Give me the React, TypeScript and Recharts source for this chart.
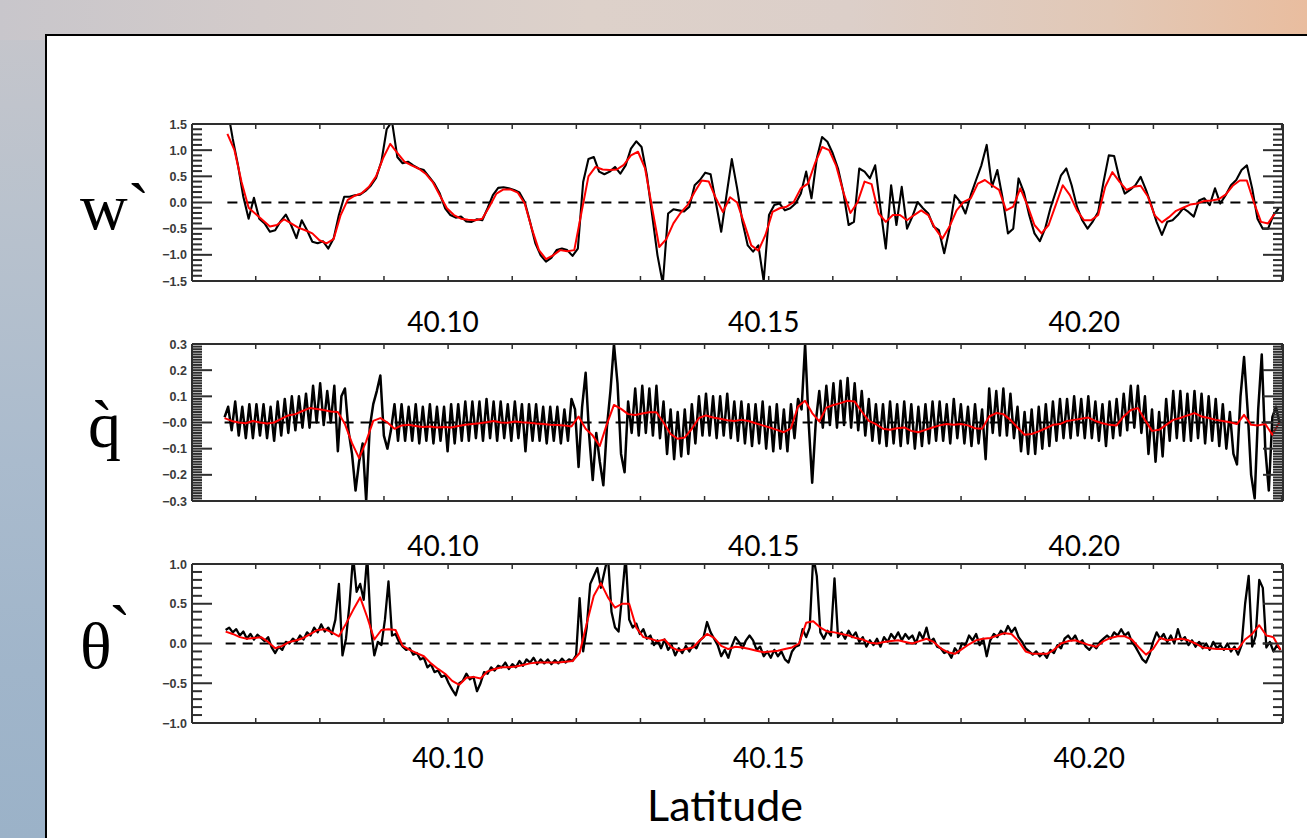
import React from 'react';
import { LineChart, Line, XAxis, YAxis } from 'recharts';

// ---------------- data ----------------
const X_DOMAIN: [number, number] = [40.06006, 40.23021];
const X_TICKS = [40.07, 40.08, 40.09, 40.10, 40.11, 40.12, 40.13, 40.14, 40.15, 40.16, 40.17, 40.18, 40.19, 40.20, 40.21, 40.22, 40.23];
const X_LABELS = [40.10, 40.15, 40.20];

const STEP_FINE = 0.00055206;   // black q, black theta
const STEP_MID = 0.0008281;     // black w
const STEP_COARSE = 0.0011041;  // red curves

const W_LAT0 = 40.06558;
const Q_LAT0 = 40.065142;
const T_LAT0 = 40.065308;

const W_BLACK = [
  1.8, 1.22, 0.71, 0.11, -0.31, 0.09, -0.31, -0.40, -0.56, -0.53,
  -0.36, -0.23, -0.43, -0.68, -0.34, -0.53, -0.75, -0.78, -0.74, -0.88,
  -0.69, -0.24, 0.11, 0.11, 0.14, 0.15, 0.22, 0.32, 0.47, 0.78,
  1.4, 1.55, 0.87, 0.75, 0.78, 0.71, 0.65, 0.62, 0.49, 0.36,
  0.17, -0.11, -0.24, -0.29, -0.27, -0.36, -0.37, -0.32, -0.34, -0.11,
  0.14, 0.28, 0.29, 0.27, 0.24, 0.19, 0.01, -0.37, -0.78, -1.01,
  -1.13, -1.06, -0.91, -0.88, -0.91, -1.02, -0.88, 0.39, 0.83, 0.87,
  0.59, 0.54, 0.59, 0.68, 0.55, 0.71, 1.03, 1.17, 1.06, 0.52,
  -0.24, -1.01, -1.55, -0.21, -0.13, -0.15, -0.17, -0.08, 0.33, 0.43,
  0.57, 0.54, 0.0, -0.56, 0.14, 0.83,
  0.27, -0.37, -0.82, -0.94, -0.82, -1.5, -0.24, -0.05, -0.02, -0.15,
  -0.11, -0.02, 0.17, 0.59, 0.08, 0.84, 1.25, 1.16, 0.94, 0.65,
  0.2, -0.43, -0.37, 0.65, 0.59, 0.46, 0.71, -0.11, -0.88, 0.33,
  -0.43, 0.3, -0.5, -0.27, 0.01, -0.11, -0.21, -0.46, -0.53, -0.97,
  -0.5, 0.14, 0.01, -0.21, 0.14, 0.43, 0.71, 1.1, 0.3, 0.62,
  0.08, -0.59, -0.5, 0.46, 0.2, -0.24, -0.59, -0.74, -0.5, -0.11,
  0.2, 0.52, 0.65, 0.33, -0.08, -0.34, -0.5, -0.36, -0.18, 0.39,
  0.9, 0.89, 0.46, 0.17, 0.24, 0.33, 0.49, 0.24, -0.05, -0.37,
  -0.62, -0.37, -0.34, -0.24, -0.11, -0.18, -0.27, 0.04, 0.08, -0.05,
  0.27, -0.02, 0.14, 0.33, 0.43, 0.62, 0.71, 0.27, -0.31, -0.5,
  -0.5, -0.24, -0.11,
];

const W_RED = [
  1.31, 1.0, 0.39, -0.1, -0.22, -0.34, -0.46, -0.43, -0.32, -0.4,
  -0.48, -0.53, -0.59, -0.72, -0.78, -0.7, -0.24, 0.05, 0.13, 0.18,
  0.3, 0.5, 0.85, 1.12, 0.95, 0.78, 0.71, 0.65, 0.55, 0.39,
  0.14, -0.11, -0.24, -0.31, -0.33, -0.34, -0.31, -0.08, 0.17, 0.25,
  0.25, 0.19, -0.02, -0.5, -0.91, -1.08, -1.01, -0.91, -0.93, -0.91,
  -0.2, 0.5, 0.68, 0.63, 0.62, 0.63, 0.72, 0.9, 0.97, 0.65,
  -0.11, -0.85, -0.7, -0.4, -0.2, -0.05, 0.2, 0.42, 0.4, 0.08,
  -0.18, 0.1,
  0.0, -0.4, -0.82, -0.92, -0.62, -0.18, -0.11, -0.08, 0.01, 0.27,
  0.36, 0.75, 1.06, 1.0, 0.7, 0.2, -0.2, 0.0, 0.4, 0.35,
  -0.21, -0.37, -0.24, -0.24, -0.34, -0.24, -0.15, -0.24, -0.5, -0.69,
  -0.46, -0.15, 0.01, 0.08, 0.36, 0.43, 0.33, 0.24, -0.15, -0.08,
  0.27, -0.05, -0.43, -0.59, -0.43, -0.05, 0.33, 0.14, -0.15, -0.34,
  -0.34, -0.24, 0.3, 0.58, 0.4, 0.24, 0.3, 0.32, 0.12, -0.25,
  -0.38, -0.28, -0.16, -0.1, -0.04, -0.02, 0.03, 0.04, 0.06, 0.15,
  0.32, 0.42, 0.42, 0.0, -0.37, -0.4, -0.2,
];

const Q_BLACK = [
  0.02, 0.06, -0.03, 0.08, -0.05, 0.06, -0.06, 0.07, -0.06, 0.07,
  -0.05, 0.07, -0.06, 0.06, -0.07, 0.08, -0.05, 0.09, -0.04, 0.1,
  -0.03, 0.1, -0.02, 0.11, -0.02, 0.14, 0.0, 0.15, -0.01, 0.12,
  0.0, 0.14, -0.11, 0.1, 0.13, -0.03, -0.12, -0.26, -0.15, -0.08,
  -0.3, -0.02, 0.07, 0.12, 0.18, -0.05, -0.1, -0.03, 0.07, -0.07,
  0.07, -0.07, 0.06, -0.07, 0.07, -0.08, 0.06, -0.07, 0.07, -0.08,
  0.06, -0.07, 0.06, -0.11, 0.07, -0.08, 0.07, -0.07, 0.08, -0.07,
  0.08, -0.06, 0.08, -0.07, 0.09, -0.06, 0.08, -0.07, 0.08, -0.06,
  0.07, -0.07, 0.08, -0.06, 0.07, -0.11, 0.07, -0.07, 0.07, -0.07,
  0.06, -0.08, 0.06, -0.07, 0.06, -0.08, 0.05, -0.07, 0.09, 0.05,
  -0.17, 0.06, 0.19, -0.05, -0.22, -0.04, -0.15, -0.24, -0.02, 0.12,
  0.3, 0.15, -0.12, -0.19, 0.08, -0.04, 0.13, -0.05, 0.14, -0.04,
  0.13, -0.05, 0.14, -0.06, 0.08, -0.12, 0.05, -0.14, 0.04, -0.13,
  0.05, -0.12, 0.07, -0.08, 0.1, -0.05, 0.11, -0.05, 0.1, -0.06,
  0.1, -0.05, 0.11, -0.06,
  0.08, -0.07, 0.08, -0.08, 0.07, -0.09, 0.07, -0.08, 0.08, -0.1,
  0.06, -0.11, 0.07, -0.1, 0.05, -0.11, 0.07, -0.06, 0.09, 0.05,
  0.3, 0.0, -0.23, 0.0, 0.12, -0.02, 0.14, -0.01, 0.15, -0.02,
  0.16, -0.01, 0.17, -0.02, 0.15, -0.03, 0.12, -0.05, 0.09, -0.07,
  0.07, -0.08, 0.07, -0.09, 0.08, -0.08, 0.07, -0.09, 0.08, -0.08,
  0.07, -0.1, 0.06, -0.09, 0.07, -0.08, 0.08, -0.07, 0.08, -0.07,
  0.07, -0.08, 0.09, -0.06, 0.07, -0.08, 0.06, -0.09, 0.07, -0.08,
  0.05, -0.14, 0.13, -0.04, 0.12, -0.05, 0.13, -0.05, 0.11, -0.06,
  0.06, -0.11, 0.04, -0.12, 0.05, -0.12, 0.06, -0.1, 0.07, -0.09,
  0.08, -0.07, 0.09, -0.06, 0.09, -0.06, 0.1, -0.05, 0.09, -0.06,
  0.1, -0.06, 0.08, -0.07, 0.07, -0.09, 0.08, -0.06, 0.09, -0.05,
  0.11, -0.03, 0.14, -0.02, 0.14, -0.04, 0.1, -0.12, 0.05, -0.15,
  0.04, -0.13, 0.09, -0.07, 0.12, -0.06, 0.12, -0.07, 0.11, -0.07,
  0.12, -0.06, 0.11, -0.08, 0.1, -0.07, 0.09, -0.09, 0.07, -0.1,
  0.04, -0.12, -0.16, 0.1, 0.25, 0.05, -0.2, -0.29, 0.05, 0.26,
  -0.1, -0.26, 0.02, 0.06, 0.0,
];

const Q_RED = [
  0.017, 0.006, 0.0, -0.003, 0.006, 0.0, -0.004, 0.0, 0.014, 0.027,
  0.032, 0.044, 0.055, 0.052, 0.048, 0.042, 0.04, -0.006, -0.079, -0.136,
  -0.072, 0.006, 0.017, 0.0, -0.024, -0.011, -0.009, -0.013, -0.017, -0.015,
  -0.019, -0.017, -0.019, -0.013, -0.009, -0.006, -0.003, 0.001, 0.006, 0.0,
  -0.001, 0.004, 0.001, -0.001, -0.004, -0.006, -0.009, -0.01, -0.011, -0.015,
  0.023, -0.024, -0.05, -0.09, -0.006, 0.067, 0.052, 0.032, 0.029, 0.034,
  0.039, 0.039, 0.0, -0.044, -0.062, -0.057, -0.024, 0.017, 0.027, 0.019,
  0.014, 0.009,
  0.006, 0.01, 0.006, -0.003, -0.011, -0.019, -0.028, -0.037, -0.022, 0.061,
  0.083, 0.036, 0.004, 0.057, 0.067, 0.074, 0.083, 0.08, 0.042, 0.006,
  -0.006, -0.024, -0.028, -0.022, -0.019, -0.032, -0.037, -0.028, -0.019, -0.011,
  -0.006, -0.009, -0.006, -0.011, -0.022, -0.024, 0.023, 0.036, 0.032, 0.01,
  -0.019, -0.047, -0.044, -0.034, -0.022, -0.009, -0.006, 0.006, 0.01, 0.014,
  0.019, 0.006, -0.003, -0.009, -0.011, 0.023, 0.048, 0.055, 0.01, -0.032,
  -0.028, -0.009, 0.01, 0.017, 0.027, 0.036, 0.023, 0.017, 0.01, 0.006,
  0.001, -0.006, 0.029, -0.009, -0.011, -0.006, -0.047, 0.001,
];

const T_BLACK = [
  0.17, 0.2, 0.14, 0.18, 0.1, 0.15, 0.06, 0.12, 0.05, 0.11,
  0.07, 0.03, 0.08, -0.05, -0.12, -0.04, -0.08, 0.02, 0.0, 0.06,
  0.02, 0.1, 0.05, 0.14, 0.1, 0.2, 0.14, 0.24, 0.15, 0.2,
  0.12, 0.3, 0.75, -0.15, 0.06, 0.5, 1.1, 0.65, 0.75, 0.55,
  1.1, 0.2, -0.15, 0.02, -0.02, 0.3, 0.78, 0.1, 0.12, 0.02,
  -0.04, -0.08, -0.06, -0.14, -0.12, -0.2, -0.18, -0.3, -0.26, -0.36,
  -0.34, -0.42, -0.4, -0.5, -0.58, -0.65, -0.5, -0.47, -0.38, -0.45,
  -0.42, -0.6, -0.5, -0.36, -0.38, -0.3, -0.34, -0.28, -0.3, -0.24,
  -0.32, -0.26, -0.3, -0.22, -0.28, -0.2, -0.24, -0.18, -0.26, -0.2,
  -0.25, -0.2, -0.26, -0.21, -0.25, -0.19, -0.24, -0.2, -0.22, -0.15,
  0.57, -0.1, 0.2, 0.75, 0.85, 0.95, 0.7, 0.9, 1.1, 0.4,
  0.2, 0.15, 0.6, 1.1, 0.3, 0.2, 0.25, 0.12, 0.18, 0.06,
  0.1, -0.02, 0.04, -0.06, 0.05, -0.08, -0.02, -0.15, -0.06, -0.12,
  -0.03, -0.1, -0.02, -0.06, 0.04, 0.08, 0.27, 0.14, 0.06, -0.02,
  -0.16, -0.08, -0.18,
  -0.03, 0.08, 0.02, -0.06, 0.04, 0.1, 0.04, -0.08, -0.04, -0.16,
  -0.1, -0.18, -0.08, -0.16, -0.1, -0.2, -0.24, -0.1, -0.04, -0.02,
  0.18, 0.08, 0.2, 1.1, 0.85, 0.14, 0.06, 0.16, 0.1, 0.82,
  0.08, 0.14, 0.06, 0.16, 0.08, 0.14, 0.02, 0.08, -0.04, 0.04,
  -0.02, 0.06, -0.04, 0.08, 0.02, 0.12, 0.06, 0.14, 0.04, 0.12,
  0.06, 0.1, 0.0, 0.14, 0.06, 0.2, 0.02, 0.06, -0.04, -0.06,
  -0.12, -0.1, -0.18, -0.06, -0.12, 0.0, -0.02, 0.1, 0.04, 0.12,
  -0.02, 0.06, -0.16, 0.04, 0.12, 0.08, 0.16, 0.12, 0.22, 0.14,
  0.2, 0.08, 0.02, -0.06, -0.1, -0.14, -0.1, -0.16, -0.12, -0.18,
  -0.08, -0.12, -0.02, -0.06, 0.06, 0.1, 0.04, 0.1, 0.0, 0.04,
  -0.04, -0.08, -0.02, -0.06, 0.02, 0.06, 0.1, 0.06, 0.14, 0.1,
  0.18, 0.1, 0.14, 0.02, -0.04, -0.12, -0.2, -0.24, -0.14, 0.02,
  0.14, 0.06, 0.12, 0.02, 0.1, 0.0, 0.18, 0.04, 0.08, -0.02,
  0.04, -0.04, 0.02, -0.06, 0.0, -0.08, 0.02, -0.06, -0.02, -0.08,
  0.0, -0.1, -0.04, -0.14, -0.02, 0.5, 0.85, -0.04, 0.1, 0.8,
  0.7, -0.05, 0.02, -0.1, -0.02, -0.08,
];

const T_RED = [
  0.15, 0.12, 0.08, 0.06, 0.07, 0.08, 0.02, -0.06, -0.03, 0.02,
  0.04, 0.07, 0.12, 0.17, 0.18, 0.14, 0.09, 0.25, 0.42, 0.58,
  0.33, 0.05, 0.17, 0.18, 0.17, -0.03, -0.08, -0.12, -0.16, -0.25,
  -0.32, -0.38, -0.47, -0.52, -0.43, -0.42, -0.44, -0.35, -0.32, -0.3,
  -0.3, -0.29, -0.27, -0.25, -0.24, -0.24, -0.24, -0.24, -0.23, -0.22,
  -0.12, 0.25, 0.6, 0.76, 0.58, 0.45, 0.5, 0.5, 0.2, 0.08,
  0.06, 0.03, 0.05, -0.05, -0.09, -0.07, -0.05, 0.04, 0.12, 0.07,
  -0.03, -0.07,
  -0.04, -0.05, -0.07, -0.09, -0.11, -0.1, -0.09, -0.07, -0.05, 0.0,
  0.26, 0.28, 0.2, 0.15, 0.14, 0.12, 0.1, 0.07, 0.05, 0.01,
  0.0, 0.02, 0.03, 0.04, 0.02, 0.0, 0.03, 0.06, 0.02, -0.06,
  -0.11, -0.13, -0.07, -0.01, 0.04, 0.06, 0.07, 0.1, 0.13, 0.12,
  0.03, -0.1, -0.13, -0.13, -0.13, -0.08, 0.0, 0.03, 0.04, 0.01,
  -0.02, -0.04, 0.03, 0.07, 0.09, 0.09, 0.05, -0.05, -0.14, -0.07,
  0.07, 0.04, 0.05, 0.06, 0.04, 0.0, -0.05, -0.06, -0.07, -0.07,
  -0.07, -0.07, 0.05, 0.12, 0.23, 0.1, 0.08, -0.08,
];

// y-axis tick definitions (major = labelled)
const W_MAJOR = [-1.5, -1.0, -0.5, 0, 0.5, 1.0, 1.5];
const Q_MAJOR = [-0.3, -0.2, -0.1, 0, 0.1, 0.2, 0.3];
const T_MAJOR = [-1.0, -0.5, 0, 0.5, 1.0];

// ---------------- helpers ----------------
type Pt = { lat: number; v: number };
const build = (lat0: number, step: number, vals: number[]): Pt[] =>
  vals.map((v, i) => ({ lat: lat0 + i * step, v }));
const tickRange = (lo: number, hi: number, step: number) => {
  const out: number[] = [];
  const n = Math.round((hi - lo) / step);
  for (let i = 0; i <= n; i++) out.push(Math.round((lo + i * step) * 1000) / 1000);
  return out;
};
const isIn = (arr: number[], v: number) => arr.some((a) => Math.abs(a - v) < 1e-6);
const fmtSigned = (v: number) => (v < 0 ? '\u2212' + Math.abs(v).toFixed(1) : v.toFixed(1));
const fmtQ = (v: number) => (v <= 0 ? '\u2212' + Math.abs(v).toFixed(1) : v.toFixed(1));

const AX = '#2e2e2e';
const W_PX = 1307;
const H_PX = 838;
const PLOT_L = 192;
const PLOT_R = 1283;
const AXIS_SZ = 1;

const makeYTick = (side: 'l' | 'r', majors: number[], fmt: (v: number) => string) =>
  (props: any) => {
    const { x, y, payload } = props;
    const v = payload.value as number;
    const major = isIn(majors, v);
    const len = major ? 20 : 10;
    const dir = side === 'l' ? 1 : -1;
    return (
      <g>
        <line x1={x} y1={y} x2={x + dir * len} y2={y} stroke={AX} strokeWidth={2} />
        {side === 'l' && major ? (
          <text x={x - 5} y={y + 4.5} textAnchor="end"
            fontFamily="'Liberation Sans', Arial, sans-serif" fontSize={12.5} fontWeight="bold" fill="#3a3a3a">
            {fmt(v)}
          </text>
        ) : null}
      </g>
    );
  };

const makeXTick = (side: 't' | 'b', dy: number, dx: number) => (props: any) => {
  const { x, y, payload } = props;
  const v = payload.value as number;
  const dir = side === 'b' ? -1 : 1;
  const lab = side === 'b' && isIn(X_LABELS, v);
  return (
    <g>
      <line x1={x} y1={y} x2={x} y2={y + dir * 5} stroke={AX} strokeWidth={1.5} />
      {lab ? (
        <text x={x + dx} y={y + dy + 10} textAnchor="middle"
          fontFamily="Lato, 'Open Sans', sans-serif" fontSize={28} fill="#000">
          {v.toFixed(2)}
        </text>
      ) : null}
    </g>
  );
};

type PanelProps = {
  top: number;
  bottom: number;
  domain: [number, number];
  majors: number[];
  minorStep: number;
  fmt: (v: number) => string;
  black: Pt[];
  red: Pt[];
  lat0: number;
  labelDy: number;
  labelDx: number;
  blackWidth: number;
};

function Panel(p: PanelProps) {
  const ticks = tickRange(p.domain[0], p.domain[1], p.minorStep);
  const zero = [{ lat: p.lat0, v: 0 }, { lat: X_DOMAIN[1], v: 0 }];
  const axisLine = { stroke: AX, strokeWidth: 2 };
  return (
    <div style={{ position: 'absolute', left: 0, top: 0 }}>
      <LineChart width={W_PX} height={H_PX}
        margin={{
          top: p.top - AXIS_SZ,
          bottom: H_PX - p.bottom - AXIS_SZ,
          left: PLOT_L - AXIS_SZ,
          right: W_PX - PLOT_R - AXIS_SZ,
        }}>
        <XAxis xAxisId="b" dataKey="lat" type="number" domain={X_DOMAIN} allowDataOverflow
          ticks={X_TICKS} interval={0} height={AXIS_SZ} tickSize={0} tickMargin={0}
          axisLine={axisLine} tickLine={false} tick={makeXTick('b', p.labelDy, p.labelDx)} />
        <XAxis xAxisId="t" orientation="top" dataKey="lat" type="number" domain={X_DOMAIN} allowDataOverflow
          ticks={X_TICKS} interval={0} height={AXIS_SZ} tickSize={0} tickMargin={0}
          axisLine={axisLine} tickLine={false} tick={makeXTick('t', 0, 0)} />
        <YAxis yAxisId="l" type="number" domain={p.domain} allowDataOverflow ticks={ticks}
          interval={0} width={AXIS_SZ} tickSize={0} tickMargin={0} axisLine={axisLine} tickLine={false}
          tick={makeYTick('l', p.majors, p.fmt)} />
        <YAxis yAxisId="r" orientation="right" type="number" domain={p.domain} allowDataOverflow ticks={ticks}
          interval={0} width={AXIS_SZ} tickSize={0} tickMargin={0} axisLine={axisLine} tickLine={false}
          tick={makeYTick('r', p.majors, p.fmt)} />
        <Line xAxisId="b" yAxisId="l" data={zero} dataKey="v" stroke="#000" strokeWidth={2}
          strokeDasharray="10 7" dot={false} isAnimationActive={false} />
        <Line xAxisId="b" yAxisId="l" data={p.black} dataKey="v" stroke="#000" strokeWidth={p.blackWidth}
          dot={false} isAnimationActive={false} strokeLinejoin="round" />
        <Line xAxisId="t" yAxisId="r" data={p.red} dataKey="v" stroke="#ff0000" strokeWidth={2}
          dot={false} isAnimationActive={false} strokeLinejoin="round" />
      </LineChart>
    </div>
  );
}

export default function App() {
  const serif = "'Liberation Serif', 'Times New Roman', serif";
  return (
    <div style={{
      position: 'absolute', left: 0, top: 0, width: W_PX, height: H_PX, overflow: 'hidden',
      background: 'linear-gradient(180deg, #c7c6cb 0%, #b9c2cd 25%, #aabbcd 55%, #a0b5ca 80%, #9bb2c8 100%)',
    }}>
      <div style={{
        position: 'absolute', left: 0, top: 0, width: W_PX, height: 40,
        background: 'linear-gradient(90deg, #c8c6cb 0%, #d3cbca 20%, #ddd1ca 45%, #dccfc9 65%, #e2c8b6 85%, #e9bd9f 100%)',
      }} />
      <div style={{
        position: 'absolute', left: 45, top: 34, width: W_PX, height: H_PX,
        background: '#fff', border: '2px solid #000', boxSizing: 'border-box',
      }} />
      <Panel top={124} bottom={281} domain={[-1.5, 1.5]} majors={W_MAJOR} minorStep={0.1}
        fmt={fmtSigned} black={build(W_LAT0, STEP_MID, W_BLACK)} red={build(W_LAT0, STEP_COARSE, W_RED)}
        lat0={W_LAT0} labelDy={41} labelDx={-5} blackWidth={2.1} />
      <Panel top={344} bottom={501} domain={[-0.3, 0.3]} majors={Q_MAJOR} minorStep={0.01}
        fmt={fmtQ} black={build(Q_LAT0, STEP_FINE, Q_BLACK)} red={build(Q_LAT0, STEP_COARSE, Q_RED)}
        lat0={Q_LAT0} labelDy={45} labelDx={-5} blackWidth={2.5} />
      <Panel top={564} bottom={723} domain={[-1.0, 1.0]} majors={T_MAJOR} minorStep={0.1}
        fmt={fmtSigned} black={build(T_LAT0, STEP_FINE, T_BLACK)} red={build(T_LAT0, STEP_COARSE, T_RED)}
        lat0={T_LAT0} labelDy={35} labelDx={0} blackWidth={2.3} />
      <svg width={W_PX} height={H_PX} style={{ position: 'absolute', left: 0, top: 0, pointerEvents: 'none' }}>
        <text x={80} y={229} fontFamily={serif} fontSize={66} fill="#000">w`</text>
        <text x={88} y={447} fontFamily={serif} fontSize={66} fill="#000">{'q\u0300'}</text>
        <text x={80} y={668} fontFamily={serif} fontSize={66} fill="#000">θ<tspan x={109} y={651}>`</tspan></text>
        <text x={725} y={821} textAnchor="middle" fontFamily="Lato, 'Open Sans', sans-serif" fontSize={43} fill="#000">Latitude</text>
      </svg>
    </div>
  );
}
